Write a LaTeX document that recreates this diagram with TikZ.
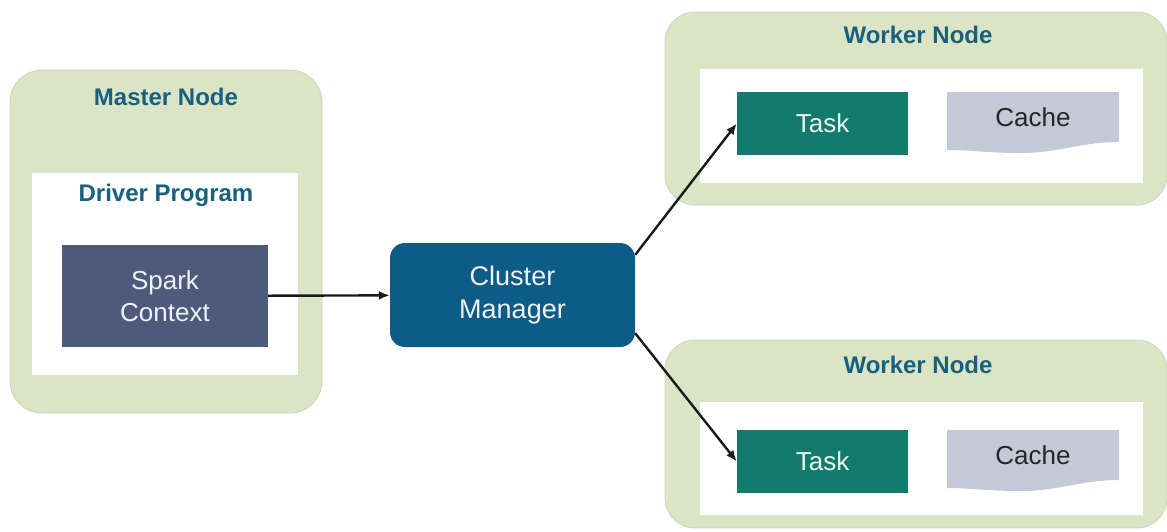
\documentclass[tikz,border=0pt]{standalone}
\usepackage{fontspec}
\setmainfont{Liberation Sans}
\usepackage{xcolor}
\usetikzlibrary{arrows.meta}

\definecolor{nodegreen}{HTML}{DBE5C6}
\definecolor{greenline}{HTML}{CBD6B4}
\definecolor{titleblue}{HTML}{17607F}
\definecolor{sparkgray}{HTML}{4E5A7C}
\definecolor{clusterblue}{HTML}{0D5C87}
\definecolor{taskgreen}{HTML}{137B6B}
\definecolor{cachegray}{HTML}{C4C9D7}
\definecolor{boxtext}{HTML}{EEF1F5}

\tikzset{
  container/.style={draw=greenline, fill=nodegreen, line width=0.8pt, rounded corners=32pt, inner sep=0pt},
  panel/.style={fill=white, inner sep=0pt},
  heading/.style={text=titleblue, font=\fontsize{24}{27}\selectfont\bfseries},
  body/.style={text=boxtext, align=center, font=\fontsize{26}{32}\selectfont},
  taskbox/.style={fill=taskgreen, body, minimum width=171pt, minimum height=63pt, inner sep=0pt},
  link/.style={-{Latex[length=11pt,width=9pt]}, line width=2.4pt, black!90},
}

\begin{document}
\begin{tikzpicture}[x=1pt,y=-1pt]
  \useasboundingbox (0,0) rectangle (1167,531);

  % master side
  \draw (166,241.5) node[container, minimum width=312pt, minimum height=343pt] (master) {}
   (165,274) node[panel, minimum width=266pt, minimum height=202pt] (driver) {}
   (166,97) node[heading] (mastertitle) {Master Node}
   (166,195) node[heading] (drivertitle) {Driver Program}
   (165,296) node[body, fill=sparkgray, minimum width=206pt, minimum height=102pt, inner sep=0pt] (spark) {Spark\\Context};

  \draw (512.5,295) node[body, fill=clusterblue, rounded corners=15pt, minimum width=245pt, minimum height=104pt, inner sep=0pt, font=\fontsize{27}{33}\selectfont] (cluster) {Cluster\\Manager};

  % workers
  \draw (916,108.5) node[container, rounded corners=30pt, minimum width=502pt, minimum height=193pt] (worker1) {}
   (921.5,126) node[panel, minimum width=443pt, minimum height=114pt] (inner1) {}
   (918,35) node[heading] (worker1title) {Worker Node}
   (822.5,123.5) node[taskbox] (task1) {Task};

  \draw (916,434) node[container, rounded corners=30pt, minimum width=502pt, minimum height=188pt] (worker2) {}
   (921.5,458.5) node[panel, minimum width=443pt, minimum height=113pt] (inner2) {}
   (918,365) node[heading] (worker2title) {Worker Node}
   (822.5,461.5) node[taskbox] (task2) {Task};

  \begin{scope}[shift={(1033,117)}]
    \fill[cachegray] (-86,-25) -- (86,-25) -- (86,25) .. controls (47,25) and (27,36) .. (-13,36)
      .. controls (-43,36) and (-63,33) .. (-86,33) -- cycle;
    \node[body, text=black!85] (cache1) at (0,0) {Cache};
  \end{scope}
  \begin{scope}[shift={(1033,455)}]
    \fill[cachegray] (-86,-25) -- (86,-25) -- (86,25) .. controls (47,25) and (27,36) .. (-13,36)
      .. controls (-43,36) and (-63,33) .. (-86,33) -- cycle;
    \node[body, text=black!85] (cache2) at (0,0) {Cache};
  \end{scope}

  \draw[link] (spark) -- (cluster);
  \draw[link] ([yshift=-12pt]cluster.north east) -- (task1.west);
  \draw[link] ([yshift=14pt]cluster.south east) -- (task2.west);
\end{tikzpicture}
\end{document}
